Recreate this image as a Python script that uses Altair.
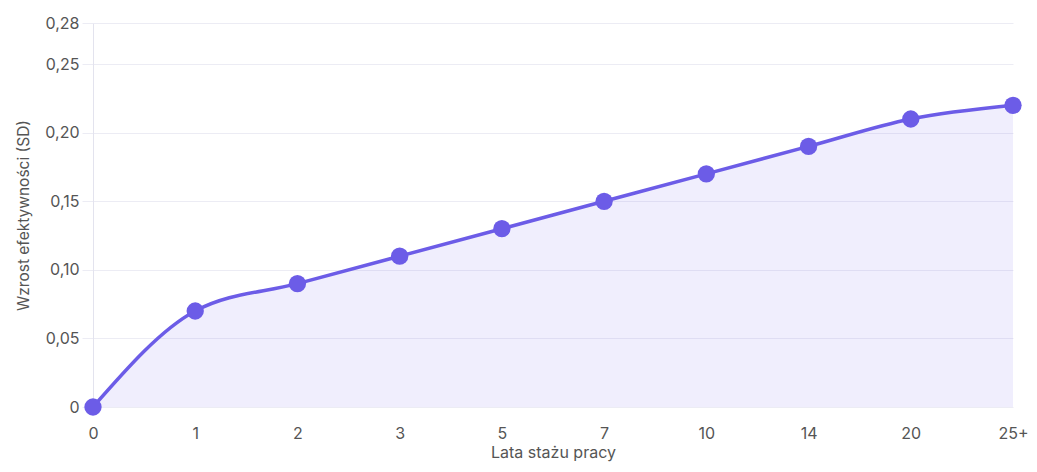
import altair as alt
import pandas as pd

years = ["0", "1", "2", "3", "5", "7", "10", "14", "20", "25+"]
growth = [0.0, 0.07, 0.09, 0.11, 0.13, 0.15, 0.17, 0.19, 0.21, 0.22]
y_ticks = [0, 0.05, 0.10, 0.15, 0.20, 0.25, 0.28]

df = pd.DataFrame({"years": years, "growth": growth})

LINE = "#6c5ce7"
FONT = "Inter"
TXT = "#555555"
label_expr = "datum.value == 0 ? '0' : replace(format(datum.value, '.2f'), '.', ',')"

x = alt.X("years:N", sort=years, title="Lata stażu pracy",
          scale=alt.Scale(type="point", padding=0),
          axis=alt.Axis(labelAngle=0, ticks=False, domain=False, grid=False,
                        labelPadding=18, labelFontSize=16, labelColor=TXT,
                        titleFontSize=16, titleFontWeight="normal", titleColor=TXT,
                        titlePadding=3, labelFont=FONT, titleFont=FONT))
y = alt.Y("growth:Q", title="Wzrost efektywności (SD)",
          scale=alt.Scale(domain=[0, 0.28], nice=False),
          axis=alt.Axis(values=y_ticks, labelExpr=label_expr, grid=True,
                        gridColor="#ececf4", domainColor="#e3e3ee", tickColor="#ececf4",
                        tickSize=11, labelPadding=3, labelFontSize=16, labelColor=TXT,
                        titleFontSize=15.5, titleFontWeight="normal", titleColor=TXT,
                        titlePadding=13, labelFont=FONT, titleFont=FONT))

base = alt.Chart(df).encode(x=x, y=y)
area = base.mark_area(interpolate="monotone", color=LINE, fillOpacity=0.1)
line = base.mark_line(interpolate="monotone", color=LINE, strokeWidth=3.5)
pts = base.mark_point(filled=True, color=LINE, size=300, opacity=1)

chart = (area + line + pts).properties(
    width=920, height=384,
    autosize=alt.AutoSizeParams(type="none"),
    padding={"left": 85, "top": 15, "right": 16, "bottom": 57},
).configure_view(stroke=None)

chart.save("out.html", embed_options={"renderer": "svg", "actions": False})
